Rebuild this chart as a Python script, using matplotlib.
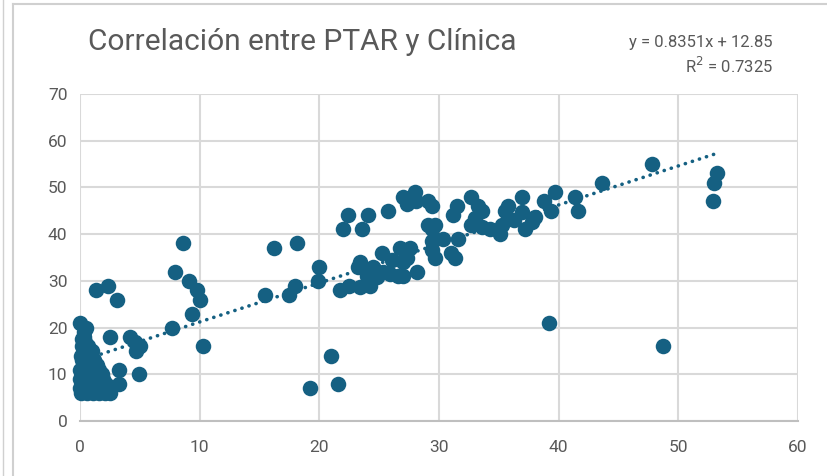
import matplotlib
matplotlib.use("Agg")
import matplotlib.pyplot as plt
from matplotlib import font_manager
from matplotlib.lines import Line2D
import numpy as np

# ---------------- data ----------------
title = "Correlación entre PTAR y Clínica"
eq_text = "y = 0.8351x + 12.85"
r2_text = "R$^2$ = 0.7325"
slope = 0.8351
intercept = 12.85

x_ticks = [0, 10, 20, 30, 40, 50, 60]
y_ticks = [0, 10, 20, 30, 40, 50, 60, 70]

# dense cluster near the origin
cluster_x = [0.0, 0.5, 0.3, 0.4, 0.5, 0.3, 0.6, 0.2, 0.8, 0.4, 1.0, 0.0, 0.6, 1.3, 1.6,
             0.2, 0.9, 1.5, 0.0, 0.7, 1.2, 0.3, 1.0, 1.6, 0.0, 0.6, 1.1, 0.1, 0.6, 1.1,
             1.6, 2.1, 2.5, 1.0, 1.2, 0.3, 0.2, 0.9, 1.4, 1.9, 2.0, 1.8, 0.5, 1.3, 2.2,
             0.1, 0.7, 0.4, 1.7, 1.0, 0.2]
cluster_y = [21, 20, 18, 17, 16, 15, 14, 13, 13, 12, 12, 11, 11, 11, 11,
             10, 10, 10, 9, 9, 9, 8, 8, 8, 7, 7, 7, 6, 6, 6,
             6, 6, 6, 15, 13, 19, 16, 14, 12, 9, 7, 10, 9.5, 8.5, 8,
             14, 16, 12.5, 7.5, 6.5, 17.5]

other_x = [1.3, 2.3, 3.1, 2.5, 4.2, 4.6, 5.0, 4.7, 3.3, 4.9, 3.3,
           7.7, 7.9, 8.6, 9.1, 9.8, 10.0, 9.4, 10.3,
           15.5, 16.2, 17.5, 18.0, 18.1, 19.9, 20.0, 19.2, 21.0, 21.6,
           21.7, 22.5, 23.4, 24.2, 22.0, 22.4, 23.6, 24.1, 23.2, 23.4, 24.0, 24.6, 25.2,
           25.3, 25.9, 25.7, 26.1, 26.6, 27.0, 27.0, 26.7, 27.6, 27.3, 28.2, 24.8, 24.5,
           27.0, 27.3, 28.0, 28.1, 29.1, 29.4, 29.1, 29.7, 29.4, 29.4, 30.3, 29.4, 29.7,
           31.0, 31.3, 31.6, 31.5, 31.2,
           32.7, 33.3, 33.6, 33.0, 32.7, 33.6, 34.3, 35.1, 35.5, 35.8, 35.3, 36.3, 36.9,
           36.9, 37.2, 37.8, 38.0, 38.8, 39.4, 39.7, 41.4, 41.6, 43.6,
           47.8, 53.2, 53.0, 52.9, 39.2, 48.7]
other_y = [28, 29, 26, 18, 18, 17, 16, 15, 11, 10, 8,
           20, 32, 38, 30, 28, 26, 23, 16,
           27, 37, 27, 29, 38, 30, 33, 7, 14, 8,
           28, 29, 28.7, 29, 41, 44, 41, 44, 33, 34, 31, 32.5, 36,
           32, 31.5, 45, 34.5, 31, 31, 34, 37, 37, 35, 32, 30.8, 33,
           48, 46.5, 49, 47, 47, 46, 42, 42, 41, 38.5, 39, 36.5, 35,
           36, 35, 39, 46, 44,
           48, 46, 45, 43.5, 42, 41.5, 41, 40, 45, 46, 42, 43, 48,
           44.7, 41, 42.5, 43.6, 47, 45, 49, 48, 45, 51,
           55, 53, 51, 47, 21, 16]

x_vals = np.array(cluster_x + other_x)
y_vals = np.array(cluster_y + other_y)

# ---------------- style ----------------
avail = {f.name for f in font_manager.fontManager.ttflist}
if "Liberation Sans Narrow" in avail:
    FONT = "Liberation Sans Narrow"
    narrow = True
else:
    FONT = "Roboto"
    narrow = False
plt.rcParams["font.family"] = [FONT, "DejaVu Sans"]

MARK = "#156082"
TXT = "#595959"
GRID = "#d9d9d9"

W, H = 828, 476
fig = plt.figure(figsize=(W / 100, H / 100), dpi=100)

# chart frame (excel UI)
fig.add_artist(Line2D([13 / W, 13 / W], [0, 1 - 4 / H], color="#d0d0d0", lw=1.5))
fig.add_artist(Line2D([13 / W, 1], [1 - 4 / H, 1 - 4 / H], color="#d0d0d0", lw=1.5))
fig.add_artist(Line2D([3 / W, 3 / W], [0, 1], color="#d0d0d0", lw=1.0))

ax = fig.add_axes([80 / W, 1 - 421 / H, (798 - 80) / W, (421 - 94) / H])
ax.set_xlim(0, 60)
ax.set_ylim(0, 70)
ax.set_xticks(x_ticks)
ax.set_yticks(y_ticks)
ax.grid(True, color=GRID, lw=1.5, zorder=0)
for s in ["top", "right", "left"]:
    ax.spines[s].set_visible(False)
ax.spines["bottom"].set_color("#bfbfbf")
ax.spines["bottom"].set_linewidth(1.5)
ax.tick_params(length=0, labelsize=13 if narrow else 12.5, colors=TXT, pad=9)
ax.tick_params(axis="x", pad=14)
ax.set_axisbelow(True)

ax.scatter(x_vals, y_vals, s=125, color=MARK, linewidths=0,
           zorder=3, clip_on=False)

xl = np.array([x_vals.min(), x_vals.max()])
ax.plot(xl, slope * xl + intercept, color=MARK, lw=2.6,
        linestyle=(0, (0.05, 2.0)), dash_capstyle="round", zorder=4)

fig.text(88 / W, 1 - 42 / H, title, fontsize=22 if narrow else 21.5, color=TXT,
         ha="left", va="center")
fig.text(773 / W, 1 - 43 / H, eq_text, fontsize=12.5 if narrow else 12, color=TXT,
         ha="right", va="center")
fig.text(773 / W, 1 - 66 / H, r2_text, fontsize=12.5 if narrow else 12, color=TXT,
         ha="right", va="center")

fig.savefig("out.png", dpi=100)
